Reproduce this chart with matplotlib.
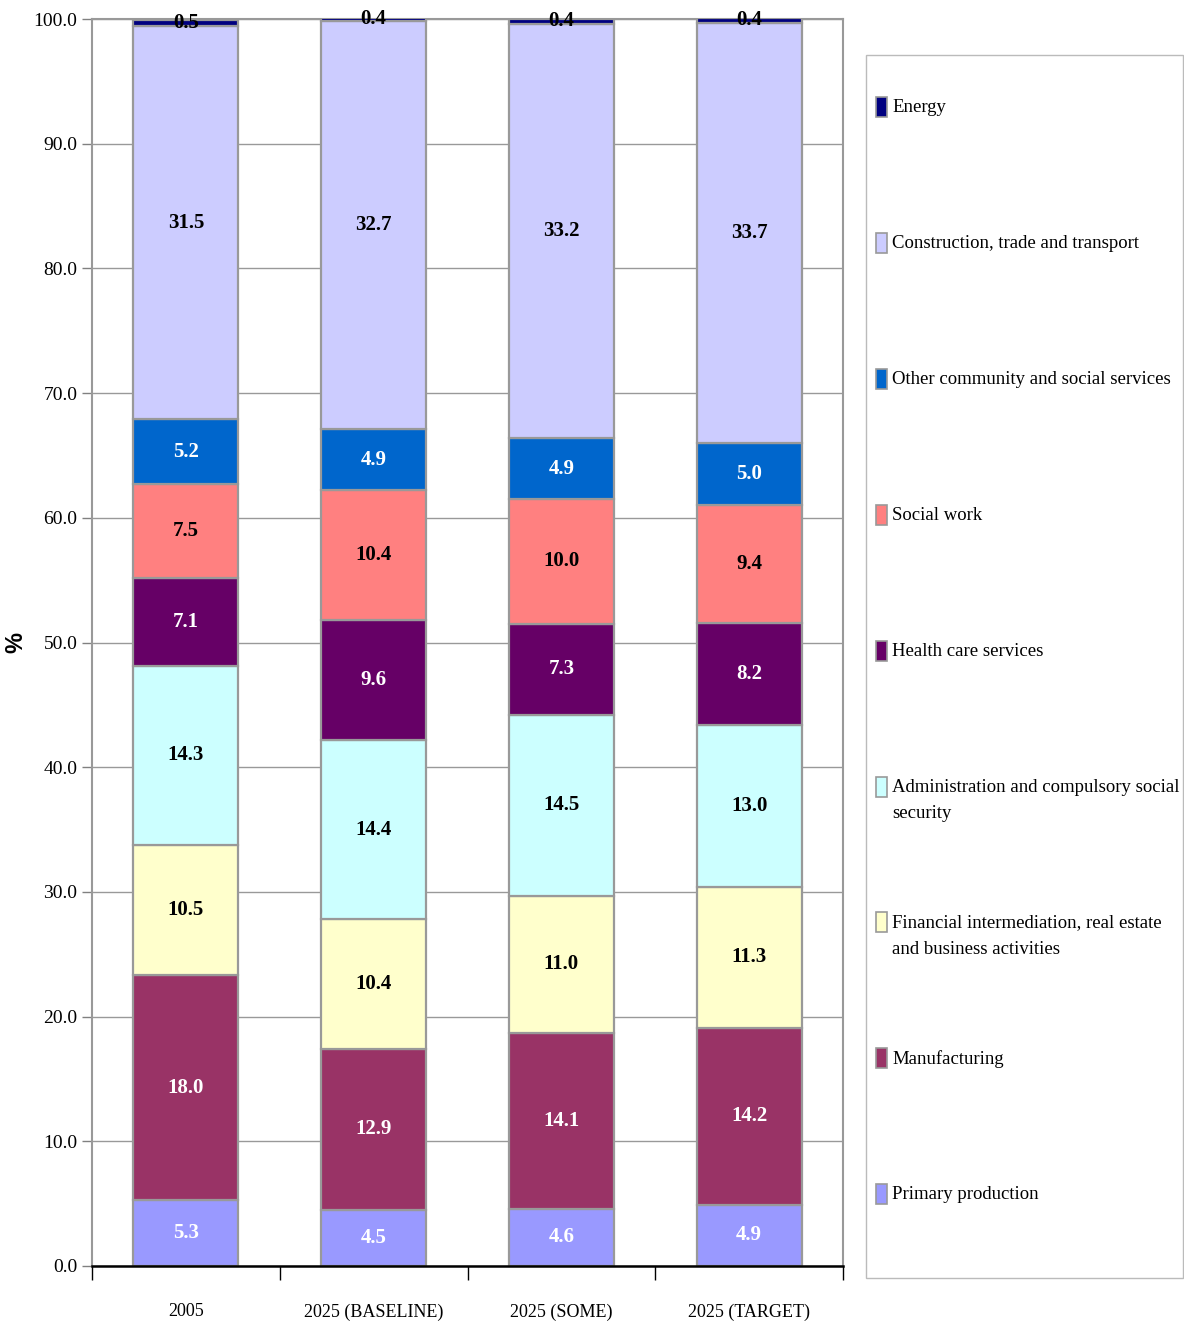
import matplotlib
matplotlib.use("Agg")
import matplotlib.pyplot as plt
from matplotlib.patches import Rectangle
import numpy as np

# Employment shares by sector, stacked from the bottom up
scenarios = ["2005", "2025 (BASELINE)", "2025 (SOME)", "2025 (TARGET)"]

sectors = [
    "Primary production",
    "Manufacturing",
    "Financial intermediation, real estate\nand business activities",
    "Administration and compulsory social\nsecurity",
    "Health care services",
    "Social work",
    "Other community and social services",
    "Construction, trade and transport",
    "Energy",
]

primary       = [5.3, 4.5, 4.6, 4.9]
manufacturing = [18.0, 12.9, 14.1, 14.2]
financial     = [10.5, 10.4, 11.0, 11.3]
administration = [14.3, 14.4, 14.5, 13.0]
health_care   = [7.1, 9.6, 7.3, 8.2]
social_work   = [7.5, 10.4, 10.0, 9.4]
other_comm    = [5.2, 4.9, 4.9, 5.0]
construction  = [31.5, 32.7, 33.2, 33.7]
energy        = [0.5, 0.4, 0.4, 0.4]

series = [primary, manufacturing, financial, administration, health_care,
          social_work, other_comm, construction, energy]

colors = ["#9999FF", "#993366", "#FFFFCC", "#CCFFFF", "#660066",
          "#FF8080", "#0066CC", "#CCCCFF", "#000080"]
label_colors = ["white", "white", "black", "black", "white",
                "black", "white", "black", "black"]

FONT = "Liberation Serif"
W, H = 1184, 1326

fig = plt.figure(figsize=(W / 100, H / 100), dpi=100)
ax = fig.add_axes([92 / W, 1 - 1266 / H, (843 - 92) / W, (1266 - 19) / H])

x = np.arange(len(scenarios))
bottom = np.zeros(len(scenarios))
for vals, col, lcol in zip(series, colors, label_colors):
    vals = np.array(vals)
    ax.bar(x, vals, width=0.56, bottom=bottom, color=col,
           edgecolor="#999999", linewidth=1.6, zorder=3)
    for xi, b, v in zip(x, bottom, vals):
        ax.text(xi, b + v / 2, "%.1f" % v, ha="center", va="center",
                color=lcol, fontsize=15, fontweight="bold", family=FONT,
                zorder=5)
    bottom += vals

ax.set_xlim(-0.5, 3.5)
ax.set_ylim(0, 100)

ax.set_yticks(np.arange(0, 101, 10))
ax.set_yticklabels(["%.1f" % v for v in np.arange(0, 101, 10)],
                   family=FONT, fontsize=14)
ax.tick_params(axis="y", length=7, color="#808080", width=1, pad=3.5)
ax.yaxis.grid(True, color="#999999", linewidth=1, zorder=0)

ax.set_xticks(x)
ax.set_xticklabels(scenarios, family=FONT, fontsize=13)
ax.set_xticks(np.arange(-0.5, 4, 1), minor=True)
ax.tick_params(axis="x", which="major", length=0, pad=27)
ax.tick_params(axis="x", which="minor", length=10, color="black", width=1)

for side in ["left", "top", "right"]:
    ax.spines[side].set_color("#999999")
    ax.spines[side].set_linewidth(1.5)
ax.spines["bottom"].set_color("black")
ax.spines["bottom"].set_linewidth(1.8)
ax.spines["bottom"].set_zorder(6)

ax.set_ylabel("%", family="Liberation Sans", fontsize=17, fontweight="bold")
ax.yaxis.set_label_coords((27 - 92) / 751, 0.5)

# Legend panel on the right, drawn top to bottom
fig.patches.append(Rectangle((866 / W, 1 - 1278 / H), (1183 - 866) / W,
                             (1278 - 55) / H, transform=fig.transFigure,
                             facecolor="white", edgecolor="#BBBBBB",
                             linewidth=1))
for i, (name, col) in enumerate(zip(sectors[::-1], colors[::-1])):
    ypix = 107 + i * 135.9
    fig.patches.append(Rectangle((876 / W, 1 - (ypix + 10) / H), 11 / W,
                                 20 / H, transform=fig.transFigure,
                                 facecolor=col, edgecolor="#999999",
                                 linewidth=1.2))
    fig.text(892 / W, 1 - (ypix - 8) / H, name, family=FONT, fontsize=13.5,
             va="top", ha="left", linespacing=1.7)

fig.savefig("out.png", dpi=100)
